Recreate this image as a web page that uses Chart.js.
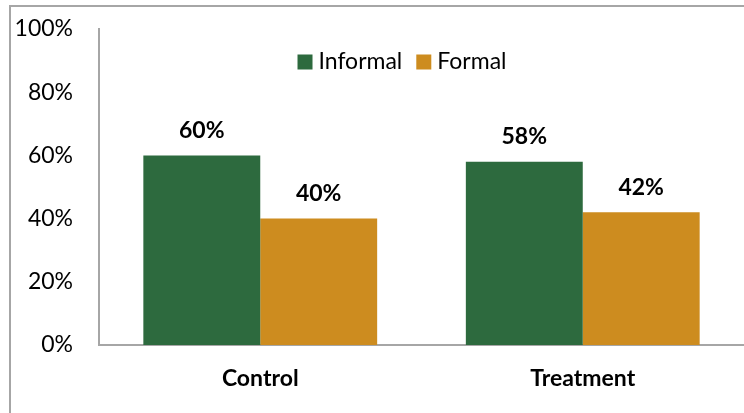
<!DOCTYPE html>
<html>
<head>
<meta charset="utf-8">
<script src="https://cdn.jsdelivr.net/npm/chart.js@4.4.0/dist/chart.umd.min.js"></script>
<style>
  html, body { margin: 0; padding: 0; background: #fff; overflow: hidden; }
  #wrap { position: relative; width: 744px; height: 413px; }
  #frame { position: absolute; left: 9px; top: 5px; width: 800px; height: 500px; border: 2px solid #a6a6a6; box-sizing: border-box; }
  canvas { position: absolute; left: 0; top: 0; }
</style>
</head>
<body>
<div id="wrap">
  <div id="frame"></div>
  <canvas id="chart" width="744" height="413"></canvas>
</div>
<script>
// data
const categories = ['Control', 'Treatment'];
const informal = [60, 58];
const formal = [40, 42];
const yTicks = [0, 20, 40, 60, 80, 100];

const FONT = 'Lato, "Open Sans", sans-serif';

// value labels above each bar
const valueLabels = {
  id: 'valueLabels',
  afterDatasetsDraw(chart) {
    const ctx = chart.ctx;
    ctx.save();
    ctx.font = 'bold 23px ' + FONT;
    ctx.fillStyle = '#000';
    ctx.textAlign = 'center';
    ctx.textBaseline = 'middle';
    chart.data.datasets.forEach((ds, i) => {
      chart.getDatasetMeta(i).data.forEach((bar, j) => {
        ctx.fillText(ds.data[j] + '%', bar.x, bar.y - 25);
      });
    });
    ctx.restore();
  }
};

// legend drawn inside the plot, like the original
const innerLegend = {
  id: 'innerLegend',
  afterDraw(chart) {
    const ctx = chart.ctx;
    ctx.save();
    ctx.font = '23px ' + FONT;
    ctx.textBaseline = 'middle';
    const box = 15, gap = 6, spacing = 14;
    const items = chart.data.datasets.map(ds => ({ text: ds.label, color: ds.backgroundColor, w: ctx.measureText(ds.label).width }));
    const total = items.reduce((a, it) => a + box + gap + it.w, 0) + spacing * (items.length - 1);
    let x = 402 - total / 2;
    const y = 62;
    items.forEach(it => {
      ctx.fillStyle = it.color;
      ctx.fillRect(x, y - box / 2, box, box);
      x += box + gap;
      ctx.fillStyle = '#000';
      ctx.fillText(it.text, x, y);
      x += it.w + spacing;
    });
    ctx.restore();
  }
};

new Chart(document.getElementById('chart'), {
  type: 'bar',
  data: {
    labels: categories,
    datasets: [
      { label: 'Informal', data: informal, backgroundColor: '#2D6A3E' },
      { label: 'Formal', data: formal, backgroundColor: '#CD8C1F' }
    ]
  },
  options: {
    responsive: false,
    animation: false,
    layout: { padding: { left: 9, top: 29, right: 0, bottom: 0 } },
    datasets: {
      bar: { categoryPercentage: 0.725, barPercentage: 1 }
    },
    scales: {
      x: {
        grid: { display: false, drawTicks: false },
        border: { display: true, color: '#a6a6a6', width: 2 },
        ticks: { color: '#000', padding: 20, font: { family: FONT, size: 23, weight: 'bold' } },
        afterFit: s => { s.height = 68; s.paddingLeft = 0; s.paddingRight = 0; }
      },
      y: {
        min: 0,
        max: 100,
        afterBuildTicks: s => { s.ticks = yTicks.map(v => ({ value: v })); },
        grid: { display: false, drawTicks: false },
        border: { display: true, color: '#a6a6a6', width: 2 },
        ticks: { color: '#000', padding: 26, font: { family: FONT, size: 23 }, callback: v => v + '%' },
        afterFit: s => { s.width = 90; s.paddingTop = 0; s.paddingBottom = 0; }
      }
    },
    plugins: {
      legend: { display: false },
      tooltip: { enabled: false }
    }
  },
  plugins: [valueLabels, innerLegend]
});
</script>
</body>
</html>
